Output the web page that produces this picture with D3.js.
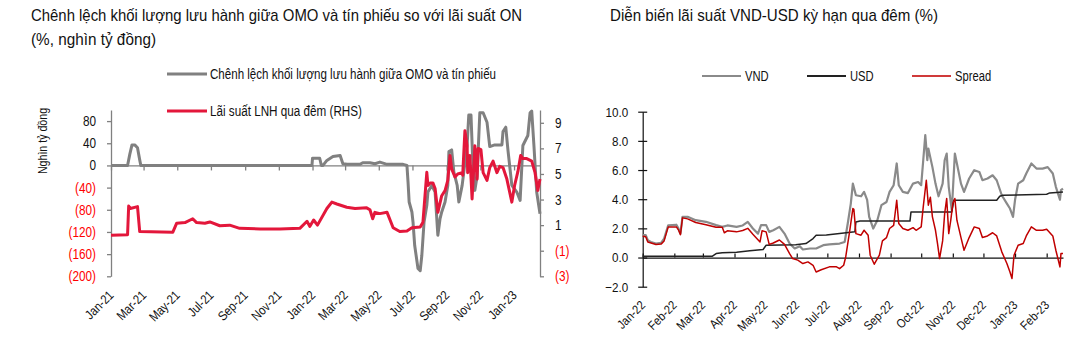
<!DOCTYPE html>
<html><head><meta charset="utf-8">
<script src="https://cdn.jsdelivr.net/npm/d3@7"></script>
<style>
html,body{margin:0;padding:0;background:#fff;}
svg{display:block;font-family:"Liberation Sans",Arial,sans-serif;}
</style></head>
<body><svg id="c" width="1083" height="346"></svg>
<script>
// ---------- LEFT CHART DATA ----------
const leftTitle = ["Chênh lệch khối lượng lưu hành giữa OMO và tín phiếu so với lãi suất ON", "(%, nghìn tỷ đồng)"];
const leftSeriesNames = ["Chênh lệch khối lượng lưu hành giữa OMO và tín phiếu", "Lãi suất LNH qua đêm (RHS)"];
const leftAxisTitle = "Nghìn tỷ đồng";
const leftTicksL = [-200, -160, -120, -80, -40, 0, 40, 80];
const leftTicksR = [-3, -1, 1, 3, 5, 7, 9];
const leftMonthLabels = ["Jan-21","Mar-21","May-21","Jul-21","Sep-21","Nov-21","Jan-22","Mar-22","May-22","Jul-22","Sep-22","Nov-22","Jan-23"];

// OMO - T-bill outstanding gap (thousand bn VND, LHS)
const omoGap = [
["2021-01-01",0],["2021-01-31",0],["2021-02-04",20],["2021-02-08",37],["2021-02-13",37],["2021-02-18",32],["2021-02-22",10],["2021-02-24",0],
["2021-12-31",0],["2022-01-01",13],["2022-01-14",13],["2022-01-17",0],["2022-01-20",0],["2022-01-27",9],["2022-02-07",16],["2022-02-20",18],
["2022-02-25",3],["2022-03-05",2],["2022-03-28",2],["2022-04-02",5],["2022-04-15",5],["2022-04-24",3],["2022-05-03",6],["2022-05-16",2],
["2022-06-14",2],["2022-06-21",0],["2022-06-23",-30],["2022-06-25",-66],["2022-06-30",-84],["2022-07-02",-102],["2022-07-05",-144],
["2022-07-11",-186],["2022-07-15",-190],["2022-07-18",-162],["2022-07-22",-102],["2022-07-27",-72],["2022-07-29",-48],["2022-08-05",-36],
["2022-08-11",-48],["2022-08-16",-126],["2022-08-20",-96],["2022-08-23",-84],["2022-08-29",-66],["2022-09-03",-36],["2022-09-05",25],
["2022-09-10",28],["2022-09-14",-12],["2022-09-20",-36],["2022-09-23",-66],["2022-09-29",-36],["2022-10-02",-12],["2022-10-08",37],
["2022-10-11",91],["2022-10-15",91],["2022-10-18",13],["2022-10-22",-45],["2022-10-26",-20],["2022-10-31",95],["2022-11-06",95],
["2022-11-13",78],["2022-11-18",34],["2022-11-27",37],["2022-12-10",37],["2022-12-12",61],["2022-12-17",69],["2022-12-21",27],
["2022-12-28",-36],["2023-01-06",-48],["2023-01-12",-63],["2023-01-17",36],["2023-01-26",54],["2023-01-30",95],["2023-02-02",98],
["2023-02-06",36],["2023-02-11",-48],["2023-02-17",-87]
];

// Interbank overnight rate (%, RHS)
const onRate = [
["2021-01-01",0.2],["2021-01-31",0.25],["2021-02-02",2.5],["2021-02-05",2.3],["2021-02-18",2.45],["2021-02-22",0.5],["2021-04-23",0.45],
["2021-04-30",1.15],["2021-05-15",1.2],["2021-05-29",1.5],["2021-06-05",1.2],["2021-06-20",1.15],["2021-06-29",1.25],["2021-07-17",0.95],
["2021-08-04",1.0],["2021-08-22",0.75],["2021-09-28",0.7],["2021-11-03",0.7],["2021-12-09",0.75],["2021-12-22",1.3],["2021-12-27",0.9],
["2022-01-03",1.4],["2022-01-10",1.0],["2022-01-27",2.3],["2022-02-05",2.8],["2022-02-14",2.65],["2022-03-04",2.4],["2022-03-19",2.3],
["2022-04-09",2.35],["2022-04-15",2.2],["2022-04-20",1.5],["2022-04-24",2.0],["2022-05-03",1.9],["2022-05-16",2.0],["2022-05-27",0.8],
["2022-06-08",0.5],["2022-06-21",0.55],["2022-06-30",0.8],["2022-07-15",0.85],["2022-07-20",1.23],["2022-07-27",5.13],["2022-07-29",4.1],
["2022-08-02",4.3],["2022-08-07",4.3],["2022-08-11",3.86],["2022-08-16",2.0],["2022-08-23",3.3],["2022-08-29",3.7],["2022-09-03",4.5],
["2022-09-07",6.45],["2022-09-10",5.4],["2022-09-16",4.76],["2022-09-21",5.0],["2022-09-29",5.1],["2022-09-30",4.9],["2022-10-04",8.38],
["2022-10-08",7.2],["2022-10-09",5.1],["2022-10-13",6.45],["2022-10-17",3.05],["2022-10-22",7.2],["2022-10-26",4.6],["2022-10-28",7.0],
["2022-11-02",6.9],["2022-11-06",5.1],["2022-11-13",4.5],["2022-11-18",5.5],["2022-11-24",6.0],["2022-12-01",5.1],["2022-12-06",5.6],
["2022-12-12",5.5],["2022-12-19",4.6],["2022-12-24",3.6],["2022-12-28",2.8],["2023-01-02",4.1],["2023-01-08",5.2],["2023-01-13",6.45],
["2023-01-17",6.2],["2023-01-24",6.2],["2023-02-02",6.0],["2023-02-08",5.1],["2023-02-13",3.7],["2023-02-17",4.6]
];

// ---------- RIGHT CHART DATA ----------
const rightTitle = "Diễn biến lãi suất VND-USD kỳ hạn qua đêm (%)";
const rightSeriesNames = ["VND", "USD", "Spread"];
const rightTicks = [-2, 0, 2, 4, 6, 8, 10];
const rightMonthLabels = ["Jan-22","Feb-22","Mar-22","Apr-22","May-22","Jun-22","Jul-22","Aug-22","Sep-22","Oct-22","Nov-22","Dec-22","Jan-23","Feb-23"];

const vnd = [
["2022-01-01",1.53],["2022-01-04",1.53],["2022-01-06",1.19],["2022-01-09",1.07],["2022-01-14",0.96],["2022-01-19",1.0],["2022-01-22",1.3],
["2022-01-26",2.2],["2022-02-03",2.25],["2022-02-05",2.0],["2022-02-07",1.64],["2022-02-09",2.79],["2022-02-14",2.79],["2022-02-22",2.56],
["2022-03-04",2.45],["2022-03-14",2.22],["2022-03-20",2.1],["2022-03-25",2.2],["2022-04-03",2.1],["2022-04-09",2.2],["2022-04-14",2.45],
["2022-04-19",1.99],["2022-04-24",1.64],["2022-04-27",2.22],["2022-05-02",2.22],["2022-05-05",1.76],["2022-05-09",1.87],["2022-05-15",2.1],
["2022-05-20",1.64],["2022-05-25",0.96],["2022-05-30",0.62],["2022-06-04",0.78],["2022-06-07",0.55],["2022-06-14",0.62],["2022-06-20",0.62],
["2022-06-27",0.85],["2022-07-03",0.9],["2022-07-13",0.96],["2022-07-18",1.07],["2022-07-21",2.33],["2022-07-24",3.7],["2022-07-26",5.07],
["2022-07-29",4.27],["2022-08-03",4.2],["2022-08-06",4.5],["2022-08-09",3.96],["2022-08-11",2.79],["2022-08-15",1.99],["2022-08-19",2.56],
["2022-08-23",3.59],["2022-08-28",3.81],["2022-08-31",4.5],["2022-09-04",4.96],["2022-09-07",6.45],["2022-09-09",4.96],["2022-09-13",4.5],
["2022-09-18",4.42],["2022-09-23",5.07],["2022-09-28",5.18],["2022-10-01",4.96],["2022-10-03",6.67],["2022-10-05",8.39],["2022-10-07",6.67],
["2022-10-08",7.47],["2022-10-12",6.2],["2022-10-15",5.07],["2022-10-18",4.2],["2022-10-22",5.07],["2022-10-24",6.67],["2022-10-26",7.13],
["2022-10-28",4.85],["2022-10-31",3.24],["2022-11-03",7.13],["2022-11-05",6.45],["2022-11-09",5.07],["2022-11-12",4.5],["2022-11-17",5.42],
["2022-11-22",5.99],["2022-11-27",5.87],["2022-11-30",5.3],["2022-12-05",5.42],["2022-12-10",5.64],["2022-12-14",5.3],["2022-12-19",4.27],
["2022-12-24",3.7],["2022-12-27",3.36],["2022-12-30",2.79],["2023-01-01",3.96],["2023-01-04",5.07],["2023-01-09",5.3],["2023-01-12",5.76],
["2023-01-17",6.45],["2023-01-22",6.1],["2023-01-28",6.1],["2023-02-02",6.2],["2023-02-07",5.76],["2023-02-10",4.85],["2023-02-14",3.96],
["2023-02-15",4.62],["2023-02-17",4.73]
];

const usd = [
["2022-01-01",0.08],["2022-03-10",0.08],["2022-03-14",0.27],["2022-03-20",0.33],["2022-04-03",0.37],["2022-04-16",0.46],["2022-04-29",0.55],
["2022-05-02",0.84],["2022-05-31",0.87],["2022-06-10",0.96],["2022-06-17",1.3],["2022-06-20",1.53],["2022-06-30",1.55],["2022-07-13",1.64],
["2022-07-28",1.76],["2022-07-29",2.44],["2022-08-02",2.5],["2022-09-20",2.5],["2022-09-21",3.13],["2022-10-31",3.13],["2022-11-02",3.93],
["2022-12-14",3.93],["2022-12-17",4.2],["2022-12-20",4.27],["2023-02-01",4.34],["2023-02-04",4.43],["2023-02-17",4.5]
];

const spread = [
["2022-01-01",1.46],["2022-01-04",1.42],["2022-01-06",1.07],["2022-01-14",0.9],["2022-01-19",0.92],["2022-01-22",1.14],["2022-01-26",2.1],
["2022-02-03",2.1],["2022-02-05",1.9],["2022-02-07",1.56],["2022-02-09",2.72],["2022-02-14",2.65],["2022-02-22",2.4],["2022-03-04",2.25],
["2022-03-14",2.07],["2022-03-20",2.07],["2022-03-22",1.7],["2022-03-25",1.83],["2022-04-03",1.76],["2022-04-09",1.85],["2022-04-14",2.0],
["2022-04-19",1.6],["2022-04-26",1.07],["2022-04-28",1.83],["2022-05-02",1.76],["2022-05-05",0.9],["2022-05-09",1.0],["2022-05-15",1.2],
["2022-05-20",0.9],["2022-05-25",0.27],["2022-05-28",-0.07],["2022-06-02",-0.18],["2022-06-07",-0.41],["2022-06-12",-0.3],["2022-06-17",-0.53],
["2022-06-20",-0.99],["2022-06-25",-0.84],["2022-07-03",-0.64],["2022-07-10",-0.64],["2022-07-13",-0.76],["2022-07-17",-0.53],["2022-07-19",0.04],
["2022-07-23",1.87],["2022-07-26",3.36],["2022-07-27",3.3],["2022-07-29",1.64],["2022-08-03",1.53],["2022-08-06",1.87],["2022-08-10",1.53],
["2022-08-12",0.16],["2022-08-16",-0.46],["2022-08-21",0.16],["2022-08-24",1.14],["2022-08-28",1.37],["2022-08-31",1.99],["2022-09-04",2.2],
["2022-09-07",3.93],["2022-09-09",2.33],["2022-09-13",1.99],["2022-09-18",1.87],["2022-09-23",2.05],["2022-09-26",1.87],["2022-10-01",2.1],
["2022-10-03",3.47],["2022-10-06",5.3],["2022-10-08",3.59],["2022-10-10",4.13],["2022-10-12",2.79],["2022-10-15",1.87],["2022-10-17",0.96],
["2022-10-19",-0.07],["2022-10-22",1.14],["2022-10-24",3.02],["2022-10-26",4.05],["2022-10-28",1.64],["2022-10-30",2.56],["2022-11-01",3.7],
["2022-11-03",4.05],["2022-11-05",2.56],["2022-11-09",1.37],["2022-11-12",0.5],["2022-11-17",1.37],["2022-11-22",2.1],["2022-11-27",1.99],
["2022-11-30",1.37],["2022-12-05",1.48],["2022-12-10",1.7],["2022-12-14",1.48],["2022-12-19",0.39],["2022-12-24",-0.41],["2022-12-27",-0.99],
["2022-12-29",-1.44],["2022-12-31",0.16],["2023-01-04",0.84],["2023-01-09",0.96],["2023-01-12",1.48],["2023-01-17",2.1],["2023-01-22",1.87],
["2023-01-28",1.87],["2023-02-01",1.94],["2023-02-07",1.48],["2023-02-10",0.5],["2023-02-14",-0.64],["2023-02-15",0.27],["2023-02-17",0.27]
];

// ---------- DRAW ----------
const parse = d3.timeParse("%Y-%m-%d");
const svg = d3.select("#c");
svg.append("rect").attr("width",1083).attr("height",346).attr("fill","#fff");

// emulate the narrow typeface of the original by horizontally condensing text
function condense(sel, k){
  sel.each(function(){
    const w = this.getComputedTextLength();
    this.setAttribute("textLength", (w*k).toFixed(2));
    this.setAttribute("lengthAdjust","spacingAndGlyphs");
  });
}
function fitWidth(sel, w){
  sel.each(function(){
    this.setAttribute("textLength", w);
    this.setAttribute("lengthAdjust","spacingAndGlyphs");
  });
}

const GRAY = "#808080", RED_L = "#e3173b", RED_T = "#ff0000";

// ===== Left chart =====
const L = svg.append("g");
const ttl = L.selectAll("text.title").data(leftTitle).join("text")
  .attr("x",31).attr("y",(d,i)=>21+i*23.5).attr("font-size",17).attr("fill","#111").text(d=>d);
fitWidth(ttl.filter((d,i)=>i===0), 491);
fitWidth(ttl.filter((d,i)=>i===1), 125);

const xL = d3.scaleTime().domain([parse("2021-01-01"), parse("2023-02-17")]).range([111,540]);
const yL = d3.scaleLinear().domain([-200,100]).range([276.3,110]);
const yR = d3.scaleLinear().domain([-3,10]).range([276.3,110]);

// legend
const legL = [{name:leftSeriesNames[0], color:GRAY, y:74, w:286},{name:leftSeriesNames[1], color:RED_L, y:111, w:152}];
legL.forEach(d=>{
  L.append("line").attr("x1",167).attr("x2",207).attr("y1",d.y).attr("y2",d.y).attr("stroke",d.color).attr("stroke-width",3);
  const t = L.append("text").attr("x",210).attr("y",d.y+5).attr("font-size",14).attr("fill","#111").text(d.name);
  fitWidth(t, d.w);
});

// axis title
const at = L.append("text").attr("transform","translate(47,141) rotate(-90)").attr("text-anchor","middle")
  .attr("font-size",12.5).attr("fill","#111").text(leftAxisTitle);
condense(at, 0.85);

const fmtParen = v => v<0 ? `(${-v})` : `${v}`;
const axL = L.append("g").attr("transform","translate(111,0)")
  .call(d3.axisLeft(yL).tickValues(leftTicksL).tickSize(4).tickSizeOuter(0).tickFormat(fmtParen));
axL.selectAll("text").attr("font-size",14).attr("font-family","Liberation Sans, Arial, sans-serif").attr("fill",d=>d<0?RED_T:"#111").attr("x",-15);
const axR = L.append("g").attr("transform","translate(540,0)")
  .call(d3.axisRight(yR).tickValues(leftTicksR).tickSize(4).tickSizeOuter(0).tickFormat(fmtParen));
axR.selectAll("text").attr("font-size",14).attr("font-family","Liberation Sans, Arial, sans-serif").attr("fill",d=>d<0?RED_T:"#111").attr("x",15);
condense(axL.selectAll("text"),0.84);
condense(axR.selectAll("text"),0.84);
const axX = L.append("g").attr("transform",`translate(0,${yL(0)})`)
  .call(d3.axisBottom(xL).ticks(d3.timeMonth.every(2)).tickSize(5).tickSizeOuter(0).tickFormat(""));
[axL,axR,axX].forEach(a=>{a.select(".domain").attr("stroke",GRAY).attr("stroke-width",1.3);a.selectAll(".tick line").attr("stroke",GRAY).attr("stroke-width",1.3);});

const ticksL = xL.ticks(d3.timeMonth.every(2));
const xlab = L.selectAll("text.xl").data(ticksL).join("text")
  .attr("transform",d=>`translate(${xL(d)+3.5},296) rotate(-45)`).attr("text-anchor","end")
  .attr("font-size",13).attr("fill","#111").text((d,i)=>leftMonthLabels[i]);
condense(xlab, 0.86);

const lineL = d3.line().x(d=>xL(parse(d[0]))).y(d=>yL(d[1]));
const lineR = d3.line().x(d=>xL(parse(d[0]))).y(d=>yR(d[1]));
L.append("path").attr("d",lineL(omoGap)).attr("fill","none").attr("stroke",GRAY).attr("stroke-width",3).attr("stroke-linejoin","round");
L.append("path").attr("d",lineR(onRate)).attr("fill","none").attr("stroke",RED_L).attr("stroke-width",3).attr("stroke-linejoin","round");

// ===== Right chart =====
const R = svg.append("g");
const rt = R.append("text").attr("x",610).attr("y",21).attr("font-size",17).attr("fill","#111").text(rightTitle);
fitWidth(rt, 328);

const x2 = d3.scaleTime().domain([parse("2022-01-01"), parse("2023-02-17")]).range([642.7,1063]);
const y2 = d3.scaleLinear().domain([-2,10]).range([286.7,111.7]);
const colors2 = ["#8a8a8a","#222222","#c00000"];
const widths2 = [2.2,1.5,1.5];

const legX = [702,807,912];
rightSeriesNames.forEach((n,i)=>{
  R.append("line").attr("x1",legX[i]).attr("x2",legX[i]+39).attr("y1",76).attr("y2",76).attr("stroke",i==2?"#d03a3a":colors2[i]).attr("stroke-width",2);
  const t = R.append("text").attr("x",legX[i]+43).attr("y",81).attr("font-size",14).attr("fill","#111").text(n);
  condense(t, 0.8);
});

const ay = R.append("g").attr("transform","translate(642.7,0)")
  .call(d3.axisLeft(y2).tickValues(rightTicks).tickSize(4.5).tickSizeOuter(0).tickFormat(d3.format(".1f")));
ay.selectAll(".tick line").attr("x1",4.5);
ay.selectAll("text").attr("font-size",13.5).attr("font-family","Liberation Sans, Arial, sans-serif").attr("fill","#111").attr("x",-14.5);
condense(ay.selectAll("text"),0.86);
const ax2 = R.append("g").attr("transform",`translate(0,${y2(0)})`)
  .call(d3.axisBottom(x2).ticks(d3.timeMonth.every(1)).tickSize(-4).tickSizeOuter(0).tickFormat(""));
[ay,ax2].forEach(a=>{a.select(".domain").attr("stroke","#111").attr("stroke-width",1.2);a.selectAll(".tick line").attr("stroke","#111").attr("stroke-width",1.2);});

const ticks2 = x2.ticks(d3.timeMonth.every(1));
const xlab2 = R.selectAll("text.xr").data(ticks2).join("text")
  .attr("transform",d=>`translate(${x2(d)+3.3},306) rotate(-45)`).attr("text-anchor","end")
  .attr("font-size",12.5).attr("fill","#111").text((d,i)=>rightMonthLabels[i]);
condense(xlab2, 0.88);

const line2 = d3.line().x(d=>x2(parse(d[0]))).y(d=>y2(d[1]));
[vnd,usd,spread].forEach((s,i)=>{
  R.append("path").attr("d",line2(s)).attr("fill","none").attr("stroke",colors2[i]).attr("stroke-width",widths2[i]).attr("stroke-linejoin","round");
});
</script></body></html>
